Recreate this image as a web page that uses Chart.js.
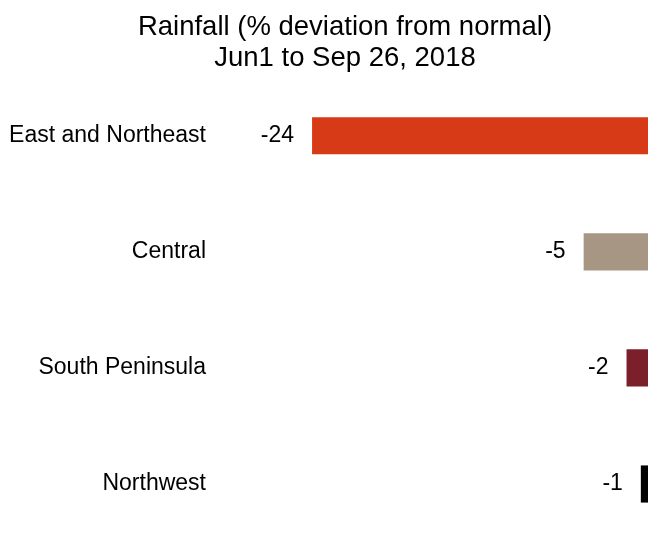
<!DOCTYPE html>
<html>
<head>
<meta charset="utf-8">
<script src="https://cdn.jsdelivr.net/npm/chart.js@4"></script>
<style>
    html, body { margin: 0; padding: 0; background: #fff; overflow: hidden; }
    canvas { display: block; }
</style>
</head>
<body>
<canvas id="rainChart" width="690" height="536"></canvas>
<script>
// Regions and their rainfall deviation (%)
const regions = ["East and Northeast", "Central", "South Peninsula", "Northwest"];
const deviation = [-24, -5, -2, -1];
const barColors = ["#D63A16", "#A89684", "#7B1F2A", "#000000"];
const titleLines = ["Rainfall (% deviation from normal)", "Jun1 to Sep 26, 2018"];

Chart.defaults.font.family = "'Liberation Sans', Arial, sans-serif";
Chart.defaults.color = "#000";

// Value labels to the left of each bar's end
const valueLabels = {
    id: "valueLabels",
    afterDatasetsDraw(chart) {
        const ctx = chart.ctx;
        const meta = chart.getDatasetMeta(0);
        ctx.save();
        ctx.font = "23px 'Liberation Sans', Arial, sans-serif";
        ctx.fillStyle = "#000";
        ctx.textAlign = "right";
        ctx.textBaseline = "middle";
        meta.data.forEach((bar, i) => {
            ctx.fillText(String(deviation[i]), bar.x - 18, bar.y);
        });
        ctx.restore();
    }
};

new Chart(document.getElementById("rainChart"), {
    type: "bar",
    data: {
        labels: regions,
        datasets: [{
            data: deviation,
            backgroundColor: barColors,
            borderWidth: 0,
            categoryPercentage: 1,
            barPercentage: 0.32,
            clip: false
        }]
    },
    options: {
        indexAxis: "y",
        responsive: false,
        animation: false,
        layout: { padding: { left: 0, right: 0, top: 0, bottom: 52 } },
        plugins: {
            legend: { display: false },
            tooltip: { enabled: false },
            title: {
                display: true,
                text: titleLines,
                font: { size: 27.5, weight: "normal", lineHeight: 1.16 },
                color: "#000",
                padding: { top: 11, bottom: 61 }
            }
        },
        scales: {
            x: {
                display: false,
                min: -31,
                max: 2.44
            },
            y: {
                offset: false,
                grid: { display: false, drawTicks: false },
                border: { display: false },
                ticks: { padding: 6, font: { size: 23 }, color: "#000" },
                afterFit(scale) { scale.width = 212; }
            }
        }
    },
    plugins: [valueLabels]
});
</script>
</body>
</html>
